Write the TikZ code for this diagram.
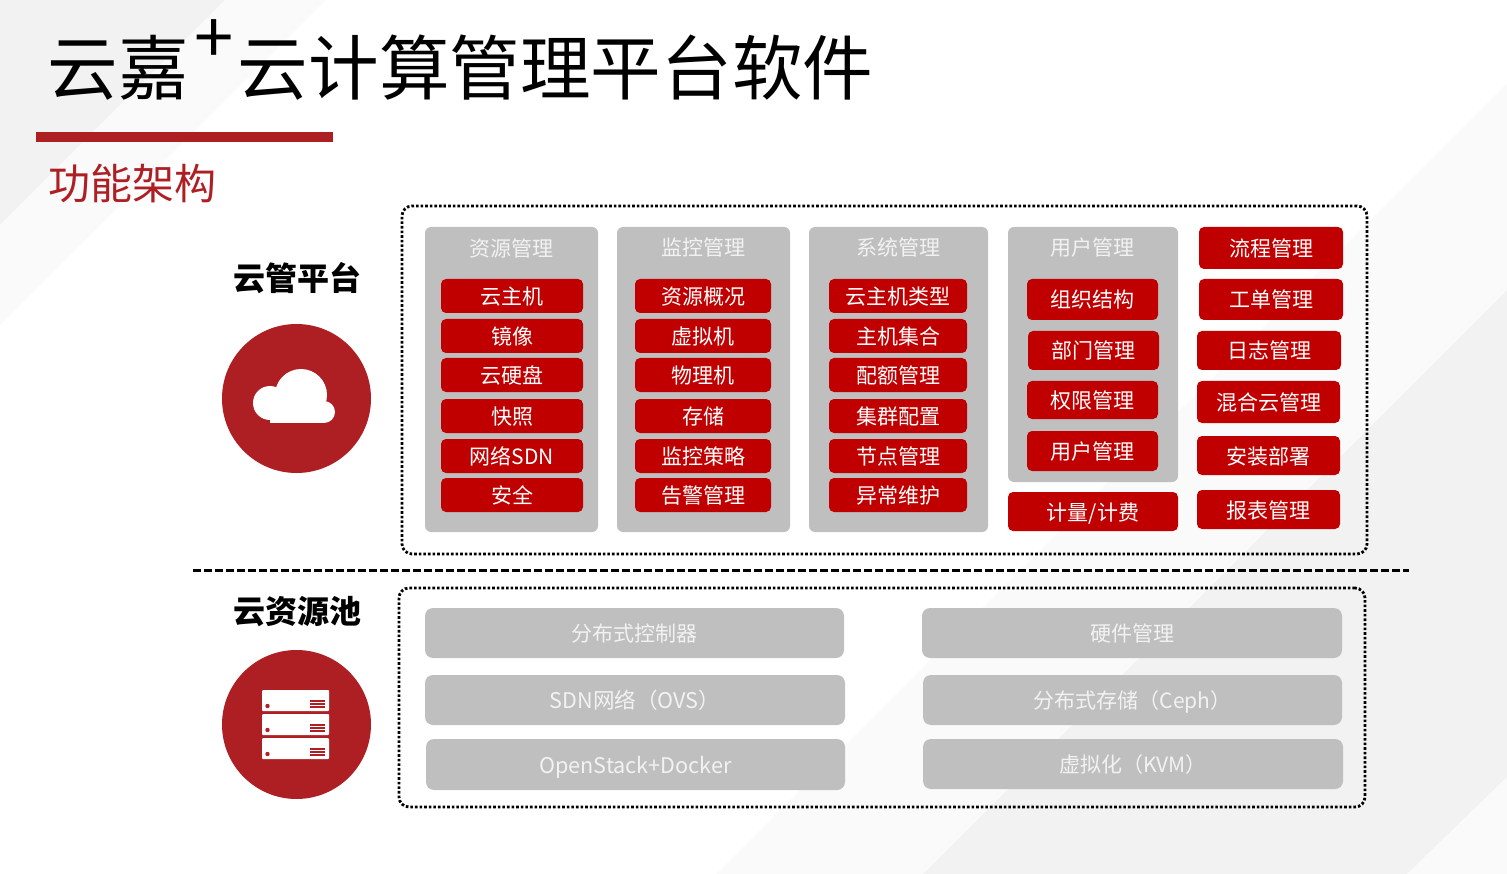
\documentclass[tikz,border=0pt]{standalone}
\usepackage{fontspec}
\setmainfont{Noto Sans CJK SC}
\definecolor{brandred}{HTML}{AE1F23}
\definecolor{boxred}{HTML}{C00000}
\definecolor{boxgray}{HTML}{BFBFBF}
\definecolor{bgdark}{HTML}{F2F2F2}
\definecolor{bglight}{HTML}{FAFAFA}
\tikzset{
  txt/.style={inner sep=0pt,text height=19.5pt,text depth=2.5pt,font=\fontsize{21}{25}\selectfont},
  redbox/.style={txt,fill=boxred,text=white,rounded corners=5pt},
  graybox/.style={txt,fill=boxgray,text=white!95!black,rounded corners=8pt},
  widetxt/.style={font=\fontsize{21.6}{25}\selectfont},
  panel/.style={fill=boxgray,rounded corners=6pt,inner sep=0pt},
  head/.style={txt,text=white!95!black},
  frame/.style={draw=black,line width=2.8pt,dash pattern=on 2.6pt off 2pt,rounded corners=10pt,inner sep=0pt},
  titletxt/.style={inner sep=0pt,font=\fontsize{70.6}{84}\selectfont},
  sidelabel/.style={inner sep=0pt,font=\fontsize{32}{36}\selectfont\bfseries},
  badge/.style={circle,fill=brandred,minimum size=149pt,inner sep=0pt},
  rackunit/.style={fill=white,rounded corners=1pt}
}
\begin{document}
\begin{tikzpicture}[x=1pt,y=-1pt]
\useasboundingbox (0,0) rectangle (1507,874);
% background stripes
\fill[bglight] (0,0) -- (326,0) -- (0,325) -- cycle;
\fill[bgdark] (0,0) -- (225,0) -- (0,225) -- cycle;
\fill[bglight] (1507,83) -- (1507,874) -- (716,874) -- cycle;
\fill[bgdark] (1507,290) -- (1507,874) -- (923,874) -- cycle;
\fill[bglight] (1507,777) -- (1507,874) -- (1407,874) -- cycle;

% title
\node[titletxt] (brand) at (118.5,68) {云嘉};
\node[titletxt] (plus) at (214,42) {+};
\node[titletxt] (title) at (555.5,68) {云计算管理平台软件};
\fill[brandred] (36,132) rectangle (333,142);
\node[inner sep=0pt,text=brandred,font=\fontsize{42}{50}\selectfont] (subtitle) at (132,184) {功能架构};

% left side
\node[sidelabel] (cloudlabel) at (297,278) {云管平台};
\node[badge] (cloudbadge) at (296.5,398.5) {};
\fill[white] (270,403) circle (17);
\fill[white] (301,395) circle (26);
\fill[white] (324,412) circle (11);
\fill[white] (270,405) rectangle (324,423);
\node[sidelabel] (poollabel) at (297,612) {云资源池};
\node[badge] (poolbadge) at (296.5,724.5) {};
\foreach \y in {690,714,738}{
  \fill[rackunit] (262,\y) rectangle (329,\y+21);
  \fill[brandred] (267.5,\y+16) circle (2.2);
  \foreach \d in {11,14,17}
    \draw[brandred,line width=1.3pt] (310,\y+\d) -- (325,\y+\d);
}

% frames and separator
\node[frame,minimum width=965,minimum height=348] (platform) at (884.5,380) {};
\draw[line width=2.5pt,dash pattern=on 8pt off 3pt] (193,570.5) -- (1409,570.5);
\node[frame,minimum width=966,minimum height=219] (pool) at (882,697.5) {};

% panels
\node[panel,minimum width=173,minimum height=305] (res) at (511.5,379.5) {};
\node[panel,minimum width=173,minimum height=305] (mon) at (703.5,379.5) {};
\node[panel,minimum width=179,minimum height=305] (sys) at (898.5,379.5) {};
\node[panel,minimum width=170,minimum height=255] (usr) at (1093,354.5) {};
\node[head] (reshead) at (511.5,248) {资源管理};
\node[head] (monhead) at (703.5,247) {监控管理};
\node[head] (syshead) at (898.5,247) {系统管理};
\node[head] (usrhead) at (1092.5,247) {用户管理};

% first three columns
\foreach \y/\name/\label in {296/a/云主机,336/b/镜像,375/c/云硬盘,416/d/快照,456/e/网络SDN,495/f/安全}
  \node[redbox,minimum width=142,minimum height=34] (res\name) at (512,\y) {\label};
\foreach \y/\name/\label in {296/a/资源概况,336/b/虚拟机,375/c/物理机,416/d/存储,456/e/监控策略,495/f/告警管理}
  \node[redbox,minimum width=136,minimum height=34] (mon\name) at (703,\y) {\label};
\foreach \y/\name/\label in {296/a/云主机类型,336/b/主机集合,375/c/配额管理,416/d/集群配置,456/e/节点管理,495/f/异常维护}
  \node[redbox,minimum width=138,minimum height=34] (sys\name) at (898,\y) {\label};

% user column
\node[redbox,minimum width=131,minimum height=41] (usra) at (1092.5,299.5) {组织结构};
\node[redbox,minimum width=131,minimum height=39] (usrb) at (1093.5,350.5) {部门管理};
\node[redbox,minimum width=131,minimum height=38] (usrc) at (1092.5,400) {权限管理};
\node[redbox,minimum width=131,minimum height=40] (usrd) at (1092.5,451) {用户管理};
\node[redbox,minimum width=170,minimum height=39] (billing) at (1093,511.5) {计量/计费};

% right column
\node[redbox,minimum width=144,minimum height=42] (flow) at (1271,248) {流程管理};
\node[redbox,minimum width=144,minimum height=41] (ticket) at (1271,299.5) {工单管理};
\node[redbox,minimum width=144,minimum height=39] (logs) at (1269,350.5) {日志管理};
\node[redbox,minimum width=143,minimum height=42] (hybrid) at (1268.5,402) {混合云管理};
\node[redbox,minimum width=143,minimum height=39] (deploy) at (1268.5,455.5) {安装部署};
\node[redbox,minimum width=143,minimum height=39] (report) at (1268.5,509.5) {报表管理};

% resource pool boxes
\node[graybox,minimum width=419,minimum height=50] (ctrl) at (634.5,633) {分布式控制器};
\node[graybox,widetxt,minimum width=420,minimum height=50] (sdn) at (635,700) {SDN网络（OVS）};
\node[graybox,widetxt,minimum width=419,minimum height=51] (stack) at (635.5,764.5) {OpenStack+Docker};
\node[graybox,minimum width=420,minimum height=50] (hw) at (1132,633) {硬件管理};
\node[graybox,minimum width=419,minimum height=50] (ceph) at (1132.5,700) {分布式存储（Ceph）};
\node[graybox,minimum width=420,minimum height=50] (kvm) at (1133,764) {虚拟化（KVM）};
\end{tikzpicture}
\end{document}
